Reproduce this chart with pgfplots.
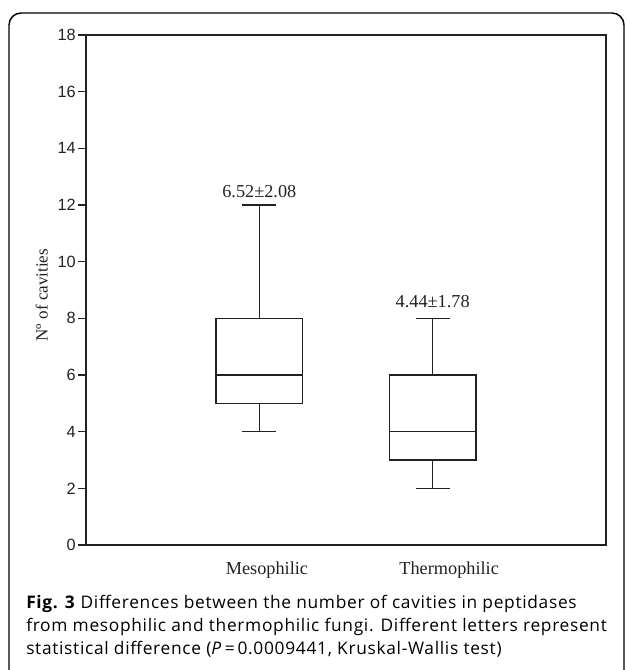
\documentclass[border=0pt]{standalone}
\usepackage{fontspec}
\setmainfont{Liberation Serif}
\newfontfamily\arialf{Liberation Sans}
\newfontfamily\capf[LetterSpace=4]{Open Sans}
\usepackage{pgfplots}
\pgfplotsset{compat=1.18}
\usepgfplotslibrary{statistics}

\definecolor{ax}{HTML}{222222}

\begin{document}
\begin{tikzpicture}
\useasboundingbox (0,0) rectangle (470.25pt,-502.5pt);
% frame and caption, in pixel units of the reference (y downwards)
\begin{scope}[x=0.75pt,y=-0.75pt]
  \draw[line width=1.1pt, rounded corners=9pt] (9,720) -- (9,13) -- (624,13) -- (624,720);
  \begin{scope}[every node/.style={anchor=base west, inner sep=0pt, font=\capf\fontsize{13pt}{16pt}\selectfont}]
    \node at (26,608) {\textbf{Fig. 3} Differences between the number of cavities in peptidases};
    \node at (26,631) {from mesophilic and thermophilic fungi. Different letters represent};
    \node at (26,654) {statistical difference (\textit{P}\,=\,0.0009441, Kruskal-Wallis test)};
  \end{scope}
\end{scope}

\begin{axis}[
  at={(64.5pt,-408.75pt)}, anchor=south west,
  scale only axis, width=390pt, height=382.5pt,
  xmin=0, xmax=3, ymin=0, ymax=18,
  ytick={0,2,...,18}, ytick pos=left,
  tick align=outside, major tick length=6pt,
  xtick={1.044,2.095}, xticklabels={Mesophilic,Thermophilic},
  xtick style={draw=none},
  axis line style={ax, line width=1pt},
  ytick style={ax, line width=1pt},
  /pgf/number format/assume math mode=true,
  yticklabel style={font=\arialf\fontsize{12.2pt}{14pt}\selectfont, text=ax, inner xsep=1.5pt},
  xticklabel style={font=\fontsize{13.7pt}{16pt}\selectfont, text=ax, anchor=base, yshift=-16pt},
  ylabel={Nº of cavities},
  ylabel style={font=\fontsize{12.8pt}{15pt}\selectfont, text=ax, at={(axis description cs:-0.085,0.49)}, anchor=center},
  boxplot/draw direction=y,
]
\addplot[ax, line width=1pt, boxplot prepared={draw position=1,
  lower whisker=4, lower quartile=5, median=6, upper quartile=8, upper whisker=12,
  box extend=0.5, whisker extend=0.196}] coordinates {};
\addplot[ax, line width=1pt, boxplot prepared={draw position=2,
  lower whisker=2, lower quartile=3, median=4, upper quartile=6, upper whisker=8,
  box extend=0.5, whisker extend=0.196}] coordinates {};
\node[anchor=base, font=\fontsize{13.7pt}{16pt}\selectfont, text=ax] at (axis cs:1,12) [yshift=5.5pt] {6.52±2.08};
\node[anchor=base, font=\fontsize{13.7pt}{16pt}\selectfont, text=ax] at (axis cs:2,8) [yshift=8pt] {4.44±1.78};
\end{axis}
\end{tikzpicture}
\end{document}
